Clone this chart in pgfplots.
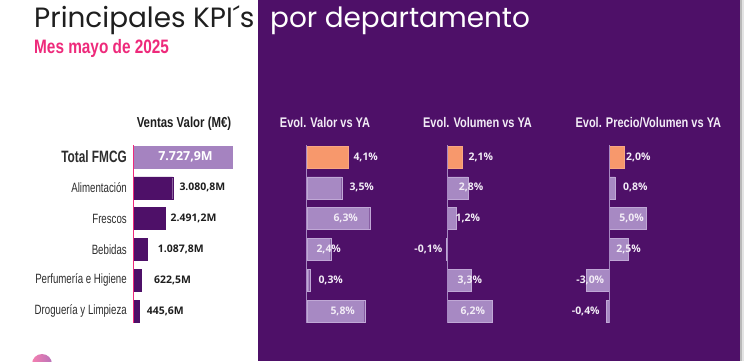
\documentclass[border=0pt]{standalone}
\usepackage{pgfplots}
\pgfplotsset{compat=1.18}
\usepackage{fontspec}
\setmainfont{Open Sans}
\newfontfamily\titlefont{Poppins}
\newfontfamily\condfont[FakeStretch=0.72]{Liberation Sans}
\newfontfamily\condbfont[FakeStretch=0.79]{Liberation Sans}
\definecolor{bgpurple}{RGB}{78,16,104}
\definecolor{lightbar}{RGB}{167,137,195}
\definecolor{lightedge}{RGB}{192,168,214}
\definecolor{orangebar}{RGB}{247,152,108}
\definecolor{totalbar}{RGB}{165,131,192}
\definecolor{pinkc}{RGB}{238,42,123}
\definecolor{labwhite}{RGB}{242,236,246}
\definecolor{darktxt}{RGB}{30,30,30}
\definecolor{cattxt}{RGB}{45,45,45}

\pgfplotsset{
  panel/.style={
    scale only axis, height=184.8bp, anchor=north west,
    ymin=-0.5, ymax=5.5, y dir=reverse, clip=false,
    axis line style={draw=none}, tick style={draw=none},
    xtick=\empty, ytick=\empty,
  },
  barA/.style={xbar, bar shift=0pt, bar width=22bp},
  labs/.style={draw=none, mark=none, nodes near coords, point meta=explicit symbolic,
    every node near coord/.append style={anchor=center, inner sep=0pt,
      font=\bfseries\fontsize{10.5}{12}\selectfont, text=#1}},
}

\begin{document}
\begin{tikzpicture}
\begin{scope}[x=1bp,y=-1bp]
\useasboundingbox (0,0) rectangle (750,361);
\clip (0,0) rectangle (750,361);
\fill[white] (0,0) rectangle (750,361);
\fill[bgpurple] (258,0) rectangle (740,361);
\fill[gray!55] (740,0) rectangle (742,361);
\fill[gray!22] (742,0) rectangle (744,361);
\shade[left color=pinkc!60, right color=violet!55] (42,364) circle (10);
\node[anchor=base west, inner sep=0, font=\titlefont\fontsize{28}{30}\selectfont, text=darktxt] at (34,27) {Principales KPI´s};
\node[anchor=base west, inner sep=0, font=\titlefont\fontsize{28}{30}\selectfont, text=white] at (270,27) {por departamento};
\node[anchor=base west, inner sep=0, font=\condbfont\bfseries\fontsize{19.5}{21}\selectfont, text=pinkc] at (34,53.5) {Mes mayo de 2025};
\node[anchor=base, inner sep=0, font=\condbfont\bfseries\fontsize{14.5}{16}\selectfont, text=darktxt] at (184,127) {Ventas Valor (M€)};
\node[anchor=base, inner sep=0, font=\condbfont\bfseries\fontsize{14}{16}\selectfont, text=labwhite] at (325,127) {Evol. Valor vs YA};
\node[anchor=base, inner sep=0, font=\condbfont\bfseries\fontsize{14}{16}\selectfont, text=labwhite] at (477.5,127) {Evol. Volumen vs YA};
\node[anchor=base, inner sep=0, font=\condbfont\bfseries\fontsize{14}{16}\selectfont, text=labwhite] at (648.3,127) {Evol. Precio/Volumen vs YA};
\end{scope}

% Ventas Valor
\begin{axis}[panel, at={(133.3bp,-141.6bp)}, width=128bp, xmin=0, xmax=10000,
  ytick={0,1,2,3,4,5},
  yticklabels={{\bfseries\fontsize{16.5}{17}\selectfont Total FMCG}, Alimentación, Frescos, Bebidas, Perfumería e Higiene, Droguería y Limpieza},
  yticklabel style={font=\condfont\fontsize{13.5}{14}\selectfont, text=cattxt, xshift=-3bp}]
\addplot[barA, fill=totalbar, draw=totalbar] coordinates {(7727.9,0)};
\addplot[barA, fill=bgpurple, draw=bgpurple] coordinates {(3080.8,1) (2491.2,2) (1087.8,3) (622.5,4) (445.6,5)};
\draw[pinkc, line width=1.3pt] (axis cs:0,-0.38) -- (axis cs:0,5.38);
\addplot[labs=white, every node near coord/.append style={font=\bfseries\fontsize{12.5}{13}\selectfont}] table[meta=lab] {
x y lab
4078 0 7.727,9M
};
\addplot[labs=darktxt, every node near coord/.append style={anchor=west}] table[meta=lab] {
x y lab
3594 1 3.080,8M
2900 2 2.491,2M
1906 3 1.087,8M
1617 4 622,5M
1047 5 445,6M
};
\end{axis}

% Evol Valor
\begin{axis}[panel, at={(286.7bp,-141.6bp)}, width=100bp, xmin=-2, xmax=8]
\addplot[barA, fill=orangebar, draw=orangebar!85!white] coordinates {(4.1,0)};
\addplot[barA, fill=lightbar, draw=lightedge] coordinates {(3.5,1) (6.3,2) (2.4,3) (0.3,4) (5.8,5)};
\draw[lightbar, line width=0.8pt] (axis cs:0,-0.38) -- (axis cs:0,5.38);
\addplot[labs=labwhite] table[meta=lab] {
x y lab
5.9 0 4,1\%
5.5 1 3,5\%
3.9 2 6,3\%
2.2 3 2,4\%
2.4 4 0,3\%
3.6 5 5,8\%
};
\end{axis}

% Evol Volumen
\begin{axis}[panel, at={(418.1bp,-141.6bp)}, width=87.6bp, xmin=-4, xmax=8]
\addplot[barA, fill=orangebar, draw=orangebar!85!white] coordinates {(2.1,0)};
\addplot[barA, fill=lightbar, draw=lightedge] coordinates {(2.8,1) (1.2,2) (-0.1,3) (3.3,4) (6.2,5)};
\draw[lightbar, line width=0.8pt] (axis cs:0,-0.38) -- (axis cs:0,5.38);
\addplot[labs=labwhite] table[meta=lab] {
x y lab
4.6 0 2,1\%
3.25 1 2,8\%
2.8 2 1,2\%
-2.6 3 -0,1\%
3.1 4 3,3\%
3.5 5 6,2\%
};
\end{axis}

% Evol Precio/Volumen
\begin{axis}[panel, at={(571.5bp,-141.6bp)}, width=90bp, xmin=-5, xmax=7]
\addplot[barA, fill=orangebar, draw=orangebar!85!white] coordinates {(2.0,0)};
\addplot[barA, fill=lightbar, draw=lightedge] coordinates {(0.8,1) (5.0,2) (2.5,3) (-3.0,4) (-0.4,5)};
\draw[lightbar, line width=0.8pt] (axis cs:0,-0.38) -- (axis cs:0,5.38);
\addplot[labs=labwhite] table[meta=lab] {
x y lab
3.9 0 2,0\%
3.5 1 0,8\%
3.0 2 5,0\%
2.6 3 2,5\%
-2.5 4 -3,0\%
-3.1 5 -0,4\%
};
\end{axis}
\end{tikzpicture}
\end{document}
